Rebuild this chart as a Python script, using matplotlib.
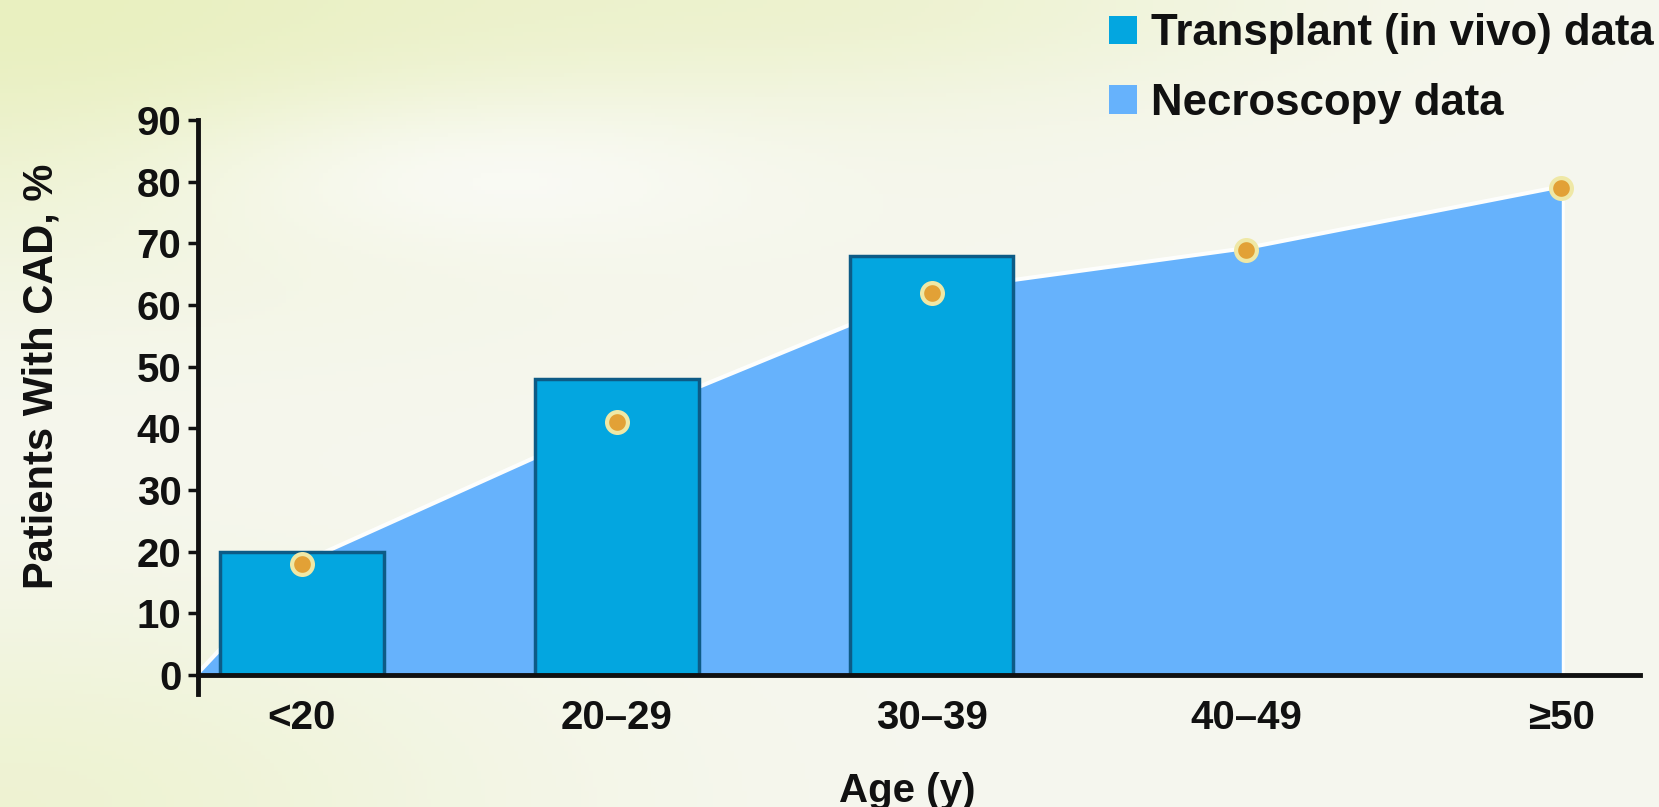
import numpy as np
import matplotlib
matplotlib.use("Agg")
import matplotlib.pyplot as plt
from matplotlib.patches import Patch

plt.rcParams['font.family'] = ['Liberation Sans', 'DejaVu Sans']
plt.rcParams['font.weight'] = 'bold'

# age groups and CAD prevalence (%)
age_groups = ['<20', '20\u201329', '30\u201339', '40\u201349', '\u226550']
transplant_pct = [20, 48, 68]          # in vivo data, first three groups only
necroscopy_pct = [18, 41, 62, 69, 79]  # autopsy series, all groups
y_ticks = [0, 10, 20, 30, 40, 50, 60, 70, 80, 90]

BAR_COLOR = '#03a6e0'
BAR_EDGE = '#0d5b86'
AREA_COLOR = '#66b2fc'
DOT_COLOR = '#e2a136'
DOT_EDGE = '#efe8a6'
TEXT_COLOR = '#111111'

W, H = 1659, 807
fig = plt.figure(figsize=(W / 100, H / 100), dpi=100)

# soft pale background wash
bg = fig.add_axes([0, 0, 1, 1], zorder=-10)
gx, gy = np.meshgrid(np.linspace(0, 1, 400), np.linspace(0, 1, 200))
base = np.array([246, 247, 239]) / 255.0
tint = np.array([233, 240, 192]) / 255.0
w_tl = np.exp(-((gx / 0.42) ** 2 + (gy / 0.30) ** 2))
w_top = 0.45 * np.exp(-(((gx - 0.55) / 0.25) ** 2 + (gy / 0.12) ** 2))
w_bl = 0.6 * np.exp(-((gx / 0.30) ** 2 + ((1 - gy) / 0.25) ** 2))
w_wh = 0.7 * np.exp(-(((gx - 0.30) / 0.18) ** 2 + ((gy - 0.22) / 0.10) ** 2))
w = np.clip(w_tl + w_top + w_bl, 0, 1)[..., None]
img = base * (1 - w) + tint * w
img = img * (1 - w_wh[..., None]) + np.ones(3) * w_wh[..., None] * 0.99
bg.imshow(np.clip(img, 0, 1), aspect='auto', extent=[0, 1, 0, 1], origin='upper')
bg.axis('off')

ax = fig.add_axes([198 / W, (H - 675) / H, (1640 - 198) / W, (675 - 120) / H])
ax.patch.set_alpha(0)

x = np.arange(len(age_groups))
x_left = -0.33

# necroscopy area, starting from the origin
area_x = np.concatenate([[x_left], x])
area_y = np.concatenate([[0], necroscopy_pct])
ax.plot(np.append(area_x, x[-1]), np.append(area_y, 0), color='white', lw=5,
        alpha=0.9, zorder=1, solid_joinstyle='round')
ax.fill_between(area_x, 0, area_y, color=AREA_COLOR, lw=0, zorder=2)

# transplant bars
ax.bar(x[:len(transplant_pct)], transplant_pct, width=0.52, color=BAR_COLOR,
       edgecolor=BAR_EDGE, linewidth=2.5, zorder=3)

# necroscopy points
ax.plot(x, necroscopy_pct, ls='none', marker='o', markersize=15,
        markerfacecolor=DOT_COLOR, markeredgecolor=DOT_EDGE,
        markeredgewidth=3, zorder=4)

ax.set_xlim(x_left, 4.25)
ax.set_ylim(0, 90)
ax.set_yticks(y_ticks)
ax.set_xticks(x)
ax.set_xticklabels(age_groups)

for side in ['top', 'right']:
    ax.spines[side].set_visible(False)
ax.spines['left'].set_bounds(-3, 90)
ax.spines['left'].set_linewidth(3.5)
ax.spines['bottom'].set_linewidth(3.5)
ax.spines['left'].set_color(TEXT_COLOR)
ax.spines['bottom'].set_color(TEXT_COLOR)
ax.spines['bottom'].set_zorder(5)

ax.tick_params(axis='y', direction='out', length=7, width=2.5, pad=5,
               labelsize=29, colors=TEXT_COLOR)
ax.tick_params(axis='x', length=0, pad=17, labelsize=29, colors=TEXT_COLOR)

fig.text(42 / W, (H - 376) / H, 'Patients With CAD, %', rotation=90,
         ha='center', va='center', fontsize=30, fontweight='bold', color=TEXT_COLOR)
fig.text(907 / W, (H - 802) / H, 'Age (y)', ha='center', va='baseline',
         fontsize=29, fontweight='bold', color=TEXT_COLOR)

handles = [Patch(facecolor=BAR_COLOR, edgecolor='none'),
           Patch(facecolor=AREA_COLOR, edgecolor='none')]
ax.legend(handles, ['Transplant (in vivo) data', 'Necroscopy data'],
          loc='upper left', bbox_to_anchor=(0.645, 1.0325),
          bbox_transform=fig.transFigure, frameon=False,
          prop={'size': 31.5, 'weight': 'bold'}, labelcolor=TEXT_COLOR,
          handlelength=0.62, handleheight=0.62, handletextpad=0.34,
          labelspacing=0.66)

fig.savefig('out.png', dpi=100)
